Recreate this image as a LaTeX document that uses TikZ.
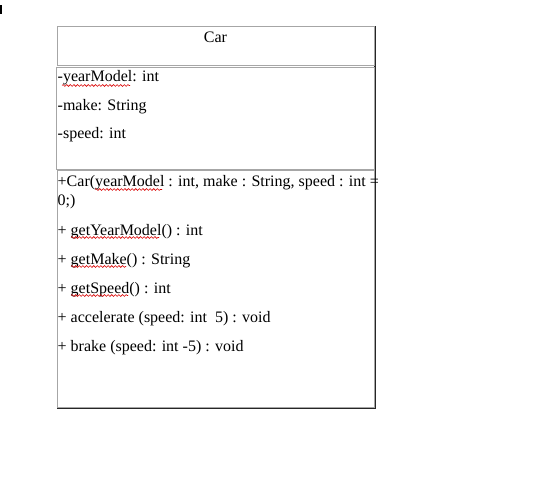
\documentclass[tikz,border=0pt]{standalone}
\usepackage{fontspec}
\setmainfont{Liberation Serif}
\usetikzlibrary{decorations.pathmorphing}
\tikzset{
  frameline/.style={draw=black!35, line width=1pt},
  shadowline/.style={draw=black!85, line width=1.4pt},
  txt/.style={anchor=base west, inner sep=0pt, font=\fontsize{16}{19}\selectfont},
  spell/.style={draw=red!85!black, line width=0.6pt, decorate,
    decoration={snake, amplitude=0.9pt, segment length=3.6pt}}
}
\begin{document}
\begin{tikzpicture}[x=1pt,y=-1pt]
\useasboundingbox (0,0) rectangle (546,481);
% text cursor
\fill[black] (0,5) rectangle (1.6,14);
% frames
\draw[shadowline] (375,26.5) -- (375,408) -- (57,408);
\draw[frameline] (57,27) rectangle (374,66);
\draw[frameline] (56.5,67.5) rectangle (374,169.5);
\draw[frameline] (57,171) rectangle (374,407);
% title
\node[inner sep=0pt, anchor=base, font=\fontsize{16}{19}\selectfont] (title) at (215.5,43) {Car};
% attributes
\node[txt] (a1) at (57.5,82) {-yearModel: int};
\node[txt] (a2) at (57.5,111) {-make: String};
\node[txt] (a3) at (57.5,139) {-speed: int};
% methods
\node[txt] (m1) at (57.5,187) {+Car(yearModel : int, make : String, speed : int =};
\node[txt] (m1b) at (57.5,206) {0;)};
\node[txt] (m2) at (57.5,235) {+ getYearModel() : int};
\node[txt] (m3) at (57.5,264) {+ getMake() : String};
\node[txt] (m4) at (57.5,293) {+ getSpeed() : int};
\node[txt] (m5) at (57.5,322) {+ accelerate (speed: int\ \ 5) : void};
\node[txt] (m6) at (57.5,351) {+ brake (speed: int -5) : void};
% spell-check underlines
\draw[spell] (62,85.5) -- (130,85.5);
\draw[spell] (95,189.5) -- (162,189.5);
\draw[spell] (71,237.5) -- (159,237.5);
\draw[spell] (71,266.5) -- (126,266.5);
\draw[spell] (71,295.5) -- (128,295.5);
\end{tikzpicture}
\end{document}
